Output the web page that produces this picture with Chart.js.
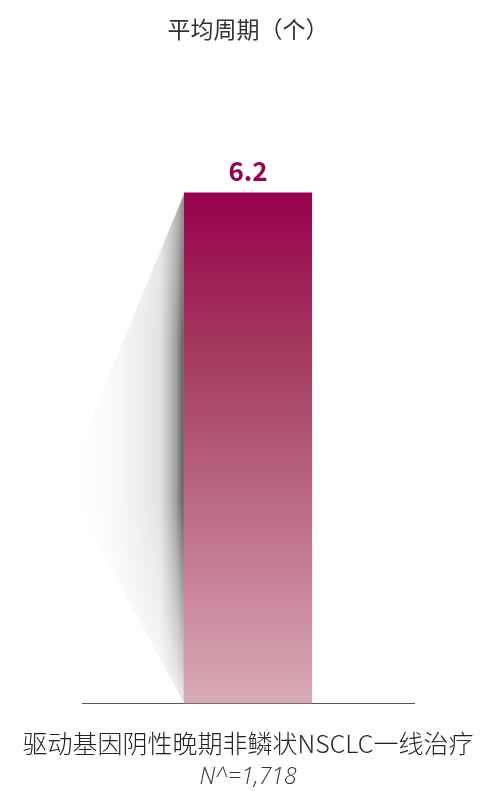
<!DOCTYPE html>
<html>
<head>
<meta charset="utf-8">
<script src="https://cdn.jsdelivr.net/npm/chart.js@4"></script>
<style>
  html, body { margin: 0; padding: 0; background: #fff; }
  #wrap { width: 481px; height: 791px; }
</style>
</head>
<body>
<div id="wrap"><canvas id="grafica" width="481" height="791"></canvas></div>
<script>
// datos del gráfico
const categorias = ['驱动基因阴性晚期非鳞状NSCLC一线治疗'];
const valores = [6.2];
const titulo = '平均周期（个）';
const muestra = 'N^=1,718';

const FONT = '"Noto Sans CJK SC", "Noto Sans", sans-serif';

// sombra gris a la izquierda de la barra
const sombraPlugin = {
    id: 'sombra',
    beforeDatasetsDraw(chart) {
        const ctx = chart.ctx;
        const bar = chart.getDatasetMeta(0).data[0];
        const izq = bar.x - bar.width / 2;
        const arriba = bar.y;
        const base = bar.base;
        const alto = base - arriba;
        ctx.save();
        ctx.beginPath();
        ctx.moveTo(izq, arriba + 2);
        ctx.lineTo(izq - 120, arriba + alto * 0.57);
        ctx.lineTo(izq, base - 2);
        ctx.closePath();
        ctx.clip();
        const g = ctx.createLinearGradient(izq, 0, izq - 120, 0);
        g.addColorStop(0, 'rgba(70,70,70,0.9)');
        g.addColorStop(0.06, 'rgba(120,120,120,0.75)');
        g.addColorStop(0.2, 'rgba(200,202,202,0.55)');
        g.addColorStop(0.6, 'rgba(235,237,237,0.35)');
        g.addColorStop(1, 'rgba(255,255,255,0)');
        ctx.fillStyle = g;
        ctx.fillRect(izq - 130, arriba, 130, alto);
        // aclarar arriba y abajo
        const v = ctx.createLinearGradient(0, arriba, 0, base);
        v.addColorStop(0, 'rgba(255,255,255,0.35)');
        v.addColorStop(0.3, 'rgba(255,255,255,0)');
        v.addColorStop(0.6, 'rgba(255,255,255,0)');
        v.addColorStop(1, 'rgba(255,255,255,0.85)');
        ctx.fillStyle = v;
        ctx.fillRect(izq - 130, arriba, 130, alto);
        ctx.restore();
        // borde inferior suave (sin tapar el eje)
        ctx.save();
        ctx.beginPath();
        ctx.rect(izq - 140, arriba, 140, alto - 1);
        ctx.clip();
        ctx.filter = 'blur(12px)';
        ctx.beginPath();
        ctx.moveTo(izq - 130, arriba + alto * 0.55);
        ctx.lineTo(izq - 8, base + 6);
        ctx.lineTo(izq - 140, base + 30);
        ctx.closePath();
        ctx.fillStyle = '#fff';
        ctx.fill();
        ctx.restore();
    }
};

// etiqueta de valor encima de la barra y texto de categoría
const etiquetaPlugin = {
    id: 'etiqueta',
    afterDatasetsDraw(chart) {
        const ctx = chart.ctx;
        chart.getDatasetMeta(0).data.forEach((bar, i) => {
            ctx.save();
            ctx.font = 'bold 26px ' + FONT;
            ctx.fillStyle = '#96004e';
            ctx.textAlign = 'center';
            ctx.textBaseline = 'middle';
            ctx.fillText(valores[i].toFixed(1), bar.x, bar.y - 21);
            ctx.restore();
        });
    },
    afterDraw(chart) {
        const ctx = chart.ctx;
        const x = chart.scales.x;
        ctx.save();
        ctx.font = '300 25px ' + FONT;
        ctx.fillStyle = '#222';
        ctx.textAlign = 'center';
        ctx.textBaseline = 'middle';
        ctx.fillText(categorias[0], (x.left + x.right) / 2, x.top + 40);
        ctx.restore();
    }
};

const canvas = document.getElementById('grafica');
new Chart(canvas, {
    type: 'bar',
    data: {
        labels: categorias,
        datasets: [{
            data: valores,
            backgroundColor(c) {
                const area = c.chart.chartArea;
                if (!area) return '#99004f';
                const g = c.chart.ctx.createLinearGradient(0, area.top + 66, 0, area.bottom);
                g.addColorStop(0, '#98004e');
                g.addColorStop(0.3, '#a3385d');
                g.addColorStop(1, '#d9aab6');
                return g;
            },
            borderWidth: 0,
            barPercentage: 0.386,
            categoryPercentage: 1
        }]
    },
    options: {
        responsive: false,
        animation: false,
        layout: { padding: { left: 82, right: 67, top: 0, bottom: 0 } },
        plugins: {
            legend: { display: false },
            tooltip: { enabled: false },
            title: {
                display: true,
                text: titulo,
                color: '#333',
                font: { family: FONT, size: 23, weight: 'normal' },
                padding: { top: 15, bottom: 84 }
            },
            subtitle: {
                display: true,
                position: 'bottom',
                text: muestra,
                color: '#333',
                font: { family: '"Open Sans", "Noto Sans", sans-serif', size: 23, style: 'italic', weight: 300 },
                padding: { top: 8, bottom: 0 }
            }
        },
        scales: {
            x: {
                grid: { display: false, drawTicks: false },
                border: { display: true, color: '#555', width: 1 },
                ticks: { display: false },
                // el espacio se reserva aquí, el texto lo dibuja el plugin
                title: {
                    display: true,
                    text: categorias[0],
                    color: 'rgba(0,0,0,0)',
                    font: { family: FONT, size: 25, weight: 'normal' },
                    padding: { top: 22, bottom: 0 }
                }
            },
            y: { display: false, min: 0, max: 7 }
        }
    },
    plugins: [sombraPlugin, etiquetaPlugin]
});
</script>
</body>
</html>
